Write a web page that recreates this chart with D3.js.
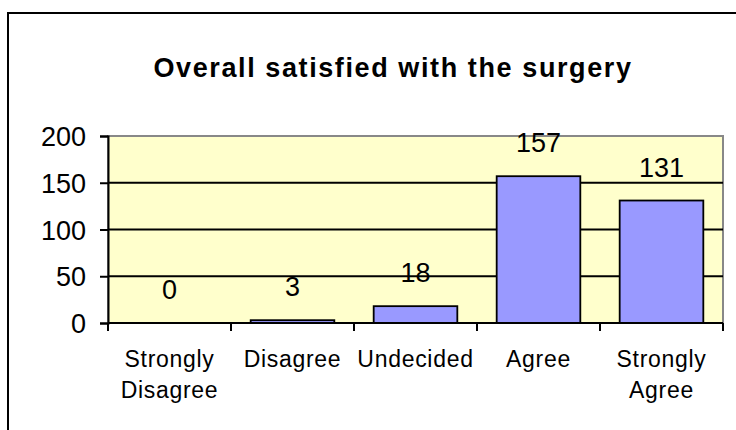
<html>
<head>
    <title>Overall satisfied with the surgery</title>
    <script src="https://cdn.jsdelivr.net/npm/d3@7"></script>
    <style>
        body {
            margin: 0;
            background: #fff;
            font-family: "Liberation Sans", Arial, sans-serif;
        }
    </style>
</head>
<body>
    <script>
    var categories = ["Strongly Disagree", "Disagree", "Undecided", "Agree", "Strongly Agree"];
    var values = [0, 3, 18, 157, 131];
    var yTicks = [0, 50, 100, 150, 200];
    var title = "Overall satisfied with the surgery";

    var width = 736;
    var height = 430;
    var plot = {left: 108, top: 136, right: 723, bottom: 323};

    var svg = d3.select("body")
        .append("svg")
        .attr("width", width)
        .attr("height", height);

    // outer chart frame (runs past the right and bottom edge)
    svg.append("rect")
        .attr("x", 8)
        .attr("y", 13)
        .attr("width", 760)
        .attr("height", 460)
        .attr("fill", "#fff")
        .attr("stroke", "#000")
        .attr("stroke-width", 2);

    var x = d3.scaleBand()
        .domain(categories)
        .range([plot.left, plot.right]);

    var y = d3.scaleLinear()
        .domain([0, 200])
        .range([plot.bottom, plot.top]);

    // plot area
    svg.append("rect")
        .attr("x", plot.left)
        .attr("y", plot.top)
        .attr("width", plot.right - plot.left)
        .attr("height", plot.bottom - plot.top)
        .attr("fill", "#ffffcc")
        .attr("stroke", "#888")
        .attr("stroke-width", 2);

    // gridlines
    svg.append("g")
        .selectAll("line")
        .data(yTicks.filter(function(t) { return t > 0 && t < 200; }))
        .enter()
        .append("line")
        .attr("x1", plot.left)
        .attr("x2", plot.right)
        .attr("y1", function(d) { return y(d); })
        .attr("y2", function(d) { return y(d); })
        .attr("stroke", "#000")
        .attr("stroke-width", 1.8);

    // bars
    var barW = x.bandwidth() * 0.68;
    svg.append("g")
        .selectAll("rect")
        .data(values)
        .enter()
        .append("rect")
        .attr("x", function(d, i) { return x(categories[i]) + (x.bandwidth() - barW) / 2; })
        .attr("y", function(d) { return y(d); })
        .attr("width", barW)
        .attr("height", function(d) { return y(0) - y(d); })
        .attr("fill", "#9999ff")
        .attr("stroke", "#000")
        .attr("stroke-width", function(d) { return d > 0 ? 1.8 : 0; });

    // value labels
    svg.append("g")
        .selectAll("text")
        .data(values)
        .enter()
        .append("text")
        .attr("x", function(d, i) { return x(categories[i]) + x.bandwidth() / 2; })
        .attr("y", function(d) { return y(d) - 24; })
        .attr("text-anchor", "middle")
        .attr("font-size", 27)
        .attr("fill", "#000")
        .text(function(d) { return d; });

    // y axis
    var yAxis = svg.append("g")
        .attr("transform", "translate(" + plot.left + ",0)")
        .call(d3.axisLeft(y).tickValues(yTicks).tickSize(8).tickPadding(14));
    yAxis.select(".domain").attr("stroke", "#000").attr("stroke-width", 2);
    yAxis.selectAll(".tick line").attr("stroke", "#000").attr("stroke-width", 2);
    yAxis.selectAll(".tick text")
        .attr("font-family", "Liberation Sans, Arial, sans-serif")
        .attr("font-size", 27)
        .attr("fill", "#000")
        .attr("dy", "0.36em");

    // x axis line and boundary ticks
    svg.append("line")
        .attr("x1", plot.left)
        .attr("x2", plot.right)
        .attr("y1", plot.bottom)
        .attr("y2", plot.bottom)
        .attr("stroke", "#000")
        .attr("stroke-width", 2);

    var bounds = categories.map(function(c) { return x(c); }).concat([plot.right]);
    svg.append("g")
        .selectAll("line")
        .data(bounds)
        .enter()
        .append("line")
        .attr("x1", function(d) { return d; })
        .attr("x2", function(d) { return d; })
        .attr("y1", plot.bottom)
        .attr("y2", plot.bottom + 8)
        .attr("stroke", "#000")
        .attr("stroke-width", 2);

    // category labels, wrapped on spaces
    var cat = svg.append("g")
        .selectAll("text")
        .data(categories)
        .enter()
        .append("text")
        .attr("text-anchor", "middle")
        .attr("font-size", 23)
        .attr("letter-spacing", 0.7)
        .attr("fill", "#000");
    cat.selectAll("tspan")
        .data(function(d) { return d.split(" ").map(function(w) { return {w: w, c: d}; }); })
        .enter()
        .append("tspan")
        .attr("x", function(d) { return x(d.c) + x.bandwidth() / 2; })
        .attr("y", function(d, i) { return 367 + i * 31; })
        .text(function(d) { return d.w; });

    // title
    svg.append("text")
        .attr("x", 393)
        .attr("y", 77)
        .attr("text-anchor", "middle")
        .attr("font-size", 27)
        .attr("font-weight", "bold")
        .attr("letter-spacing", 1.6)
        .attr("fill", "#000")
        .text(title);
    </script>
</body>
</html>
